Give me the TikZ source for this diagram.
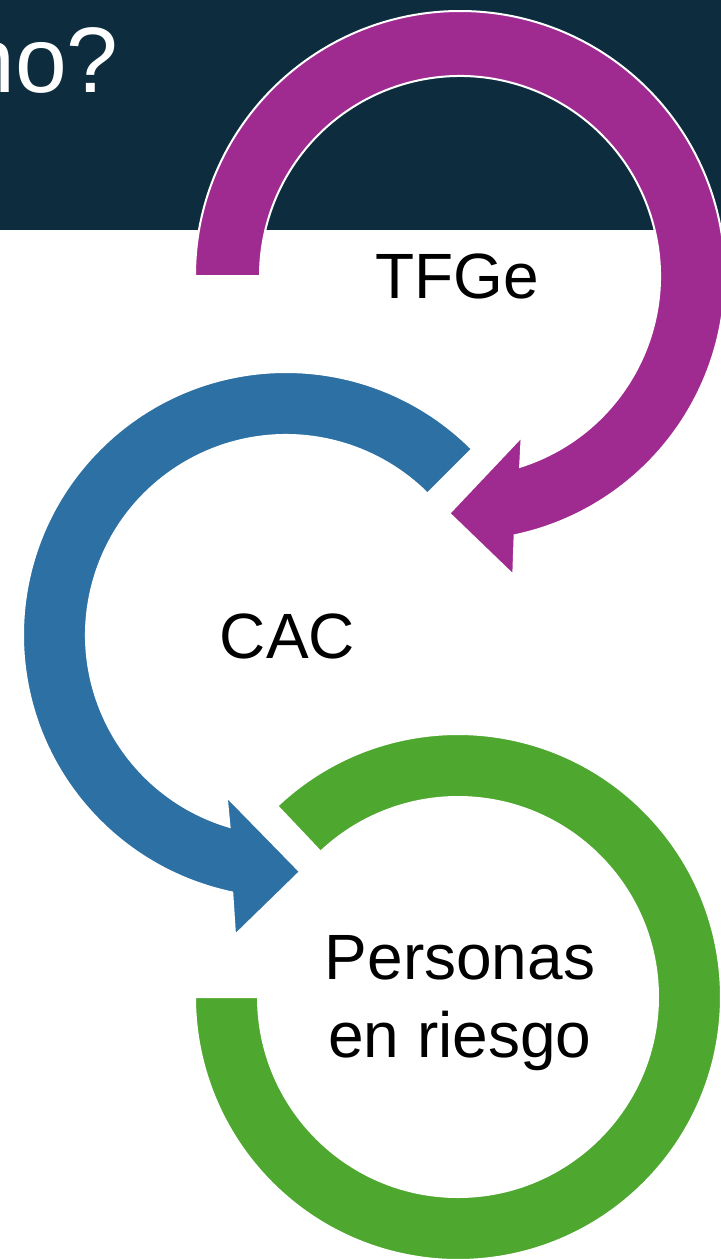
\documentclass[tikz,border=0pt]{standalone}
\usepackage{fontspec}
\setmainfont{Liberation Sans}
\usepackage{xcolor}
\definecolor{banner}{RGB}{13, 45, 62}
\definecolor{mymagenta}{RGB}{160, 43, 144}
\definecolor{myblue}{RGB}{45, 112, 163}
\definecolor{mygreen}{RGB}{78, 167, 46}
\usetikzlibrary{calc}

\begin{document}
\begin{tikzpicture}[
  x=0.5pt, y=-0.5pt,
  ringarrow/.style={draw=white, line width=1pt},
  ringtext/.style={font=\fontsize{32}{39}\selectfont, inner sep=0pt, align=center}
]
\useasboundingbox (0,0) rectangle (721,1259);

% title bar
\fill[banner] (0,0) rectangle (721,230);
\node (title) [anchor=base east, text=white, inner sep=0pt, font=\fontsize{46.5}{50}\selectfont] at (119,92) {no?};

% ring centres
\coordinate (mc) at (460,276);
\coordinate (bc) at (286,635);
\coordinate (gc) at (458,997);

% TFGe -> CAC
\fill[mymagenta, ringarrow] ($(mc)+(180:265)$) arc[start angle=180, end angle=438.1, radius=265]
  -- (513.3,575) -- (449.3,513.3) -- (521.7,436.7)
  -- ($(mc)+(432.5:200)$) arc[start angle=432.5, end angle=180, radius=200] -- cycle;

% CAC -> Personas en riesgo
\fill[myblue, ringarrow] ($(bc)+(-45:263)$) arc[start angle=-45, end angle=-258.2, radius=263]
  -- (235,935) -- (300,871.7) -- (226.7,796.7)
  -- ($(bc)+(-253.6:200)$) arc[start angle=-253.6, end angle=-45, radius=200] -- cycle;

% Personas en riesgo
\fill[mygreen, ringarrow] ($(gc)+(226.6:263)$) arc[start angle=226.6, end angle=540, radius=263]
  -- ($(gc)+(180:200)$) arc[start angle=540, end angle=226.6, radius=200] -- cycle;

\node (tfge) [ringtext, anchor=base] at (457,298.5) {TFGe};
\node (cac) [ringtext, anchor=base] at (287.5,658.8) {CAC};
\node (personas) [ringtext] at (460,1003) {Personas\\en riesgo};

\end{tikzpicture}
\end{document}
